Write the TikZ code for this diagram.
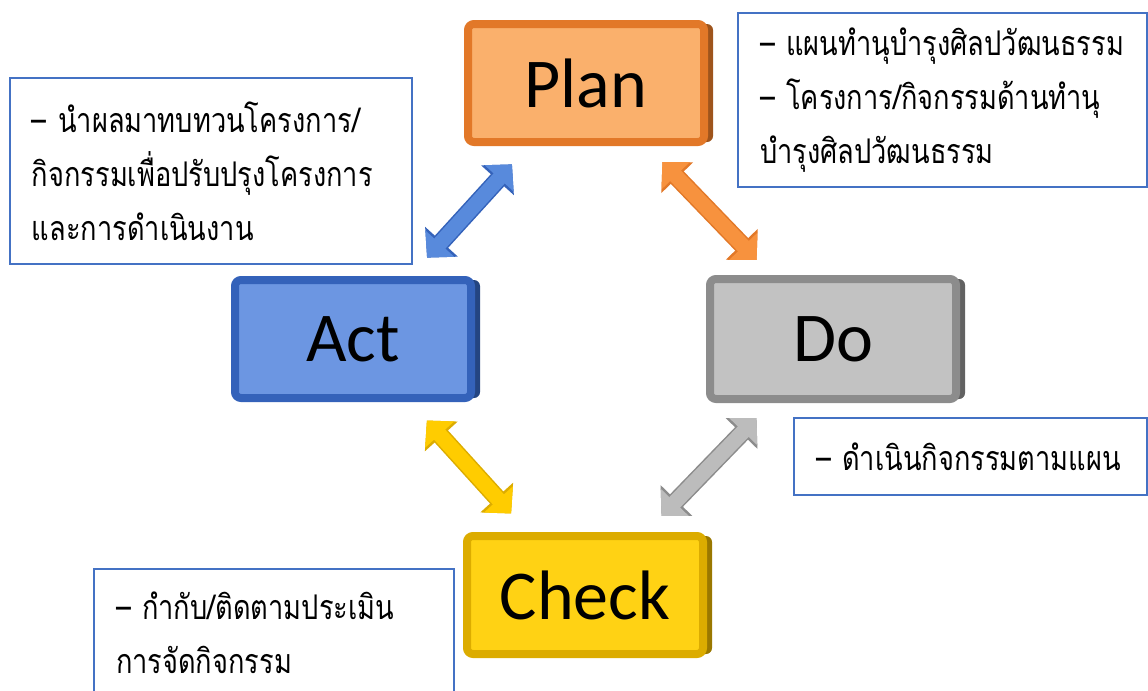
\documentclass[tikz,border=0pt]{standalone}
\usepackage{fontspec}
\newfontfamily\thaifont[Script=Thai, FakeStretch=0.8]{Loma}
\newfontfamily\labelfont{Carlito}
\usetikzlibrary{arrows.meta}
\usetikzlibrary{shadows}
\usetikzlibrary{positioning}

\definecolor{planface}{RGB}{250,176,108}
\definecolor{planedge}{RGB}{226,120,40}
\definecolor{planarrow}{RGB}{247,146,62}
\definecolor{actface}{RGB}{108,150,226}
\definecolor{actedge}{RGB}{52,98,186}
\definecolor{actarrow}{RGB}{88,138,220}
\definecolor{doface}{RGB}{194,194,194}
\definecolor{doedge}{RGB}{140,140,140}
\definecolor{doarrow}{RGB}{188,188,188}
\definecolor{checkface}{RGB}{255,210,20}
\definecolor{checkedge}{RGB}{220,172,0}
\definecolor{checkarrow}{RGB}{255,204,0}
\definecolor{notebrd}{RGB}{68,114,196}

\begin{document}
\begin{tikzpicture}[x=0.5pt, y=-0.5pt, font=\thaifont\fontsize{17}{27}\selectfont]
  \tikzstyle{stage}=[rectangle, rounded corners=3pt, line width=4pt, minimum width=118pt, minimum height=59pt, text=black, font=\labelfont\fontsize{35}{40}\selectfont]
  \tikzstyle{planbox}=[stage, fill=planface, draw=planedge, drop shadow={shadow xshift=4.5pt, shadow yshift=0pt, fill=planedge!70!black, opacity=1}]
  \tikzstyle{actbox}=[stage, fill=actface, draw=actedge, drop shadow={shadow xshift=4.5pt, shadow yshift=0pt, fill=actedge!70!black, opacity=1}]
  \tikzstyle{dobox}=[stage, fill=doface, draw=doedge, drop shadow={shadow xshift=4.5pt, shadow yshift=0pt, fill=doedge!70!black, opacity=1}]
  \tikzstyle{checkbox}=[stage, fill=checkface, draw=checkedge, drop shadow={shadow xshift=4.5pt, shadow yshift=0pt, fill=checkedge!70!black, opacity=1}]
  \tikzstyle{note}=[rectangle, draw=notebrd, line width=1pt, fill=white, anchor=north west, align=left, inner xsep=11pt, text=black]
  \tikzstyle{flow}=[line width=7.5pt, shorten >=55pt, shorten <=55pt, {Triangle[width=19pt,length=9.5pt]}-{Triangle[width=19pt,length=9.5pt]}]
  \tikzstyle{flowedge}=[draw, line width=9pt, {Triangle[width=21.5pt,length=10.75pt]}-{Triangle[width=21.5pt,length=10.75pt]}]

  \useasboundingbox (0,0) rectangle (1148,691);

  \node (plan) [planbox] at (586,83) {Plan};
  \node (act) [actbox] at (353,339) {Act};
  \node (do) [dobox, minimum width=123pt, minimum height=60pt] at (833,339) {Do};
  \node (check) [checkbox] at (585,595) {Check};

  \node (plannote) [note, text width=182.5pt, minimum height=87pt] at (737,12) {– แผนทำนุบำรุงศิลปวัฒนธรรม\\– โครงการ/กิจกรรมด้านทำนุ\\บำรุงศิลปวัฒนธรรม};
  \node (actnote) [note, text width=179pt, minimum height=93pt] at (9,77) {– นำผลมาทบทวนโครงการ/\\กิจกรรมเพื่อปรับปรุงโครงการ\\และการดำเนินงาน};
  \node (donote) [note, text width=154.5pt, minimum height=38.5pt] at (793,417) {– ดำเนินกิจกรรมตามแผน};
  \node (checknote) [note, text width=158pt, minimum height=64pt] at (93,568) {– กำกับ/ติดตามประเมิน\\การจัดกิจกรรม};

  \draw[flow, actarrow, preaction={flowedge, draw=actedge}] (act.center) -- (plan.center);
  \draw[flow, planarrow, preaction={flowedge, draw=planedge}] (plan.center) -- (do.center);
  \draw[flow, doarrow, preaction={flowedge, draw=doedge}] (do.center) -- (check.center);
  \draw[flow, checkarrow, preaction={flowedge, draw=checkedge}] (check.center) -- (act.center);
\end{tikzpicture}
\end{document}
